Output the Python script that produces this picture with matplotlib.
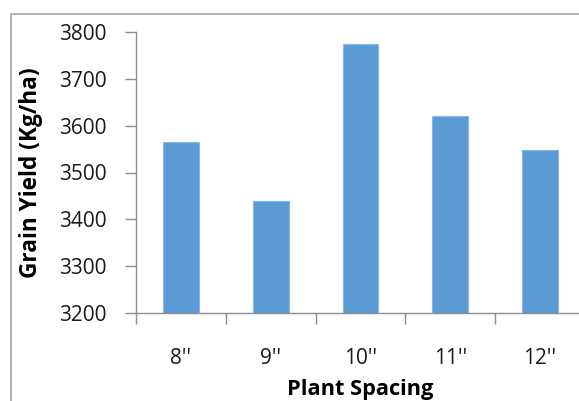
import numpy as np
import matplotlib.pyplot as plt
from matplotlib.patches import Rectangle

spacing = ["8''", "9''", "10''", "11''", "12''"]
grain_yield = [3565, 3439, 3774, 3620, 3547]

plt.rcParams['font.family'] = ['Open Sans', 'DejaVu Sans']

W, H = 579, 401
fig = plt.figure(figsize=(W / 100, H / 100), dpi=100)
# axes run a little past the right edge, like the cropped sheet chart
ax = fig.add_axes([136 / W, 1 - 313 / H, 449 / W, 281 / H])

x = np.arange(len(spacing))
ax.bar(x, grain_yield, width=0.4, color='#5b9bd5', edgecolor='#8db6e2',
       linewidth=0.8, zorder=3)

ax.set_xlim(-0.5, len(spacing) - 0.5)
ax.set_ylim(3200, 3800)
ax.set_yticks(np.arange(3200, 3801, 100))
ax.set_xticks(x)
ax.set_xticklabels(spacing)
ax.set_xticks(np.arange(-0.5, len(spacing)), minor=True)

axis_grey = '#8c8c8c'
for side in ('top', 'right'):
    ax.spines[side].set_visible(False)
for side in ('left', 'bottom'):
    ax.spines[side].set_color(axis_grey)
    ax.spines[side].set_linewidth(1.0)

ax.tick_params(axis='y', length=8, width=1, color=axis_grey, labelsize=15,
               pad=13, labelcolor='#1a1a1a')
ax.tick_params(axis='x', which='major', length=0, labelsize=15, pad=25,
               labelcolor='#1a1a1a')
ax.tick_params(axis='x', which='minor', length=8, width=1, color=axis_grey)

ax.set_ylabel('Grain Yield (Kg/ha)', fontsize=16.3, fontweight='bold')
ax.yaxis.set_label_coords(-93 / 449, 0.5)
ax.set_xlabel('Plant Spacing', fontsize=15.7, fontweight='bold')
ax.xaxis.set_label_coords(0.5, -66 / 281)

# chart-area frame
fig.patches.append(Rectangle((10.5 / W, -0.1), 1.2, 1 - 13.5 / H + 0.1,
                             transform=fig.transFigure, fill=False,
                             edgecolor='#a6a6a6', linewidth=1.2))

fig.savefig('out.png', dpi=100)
